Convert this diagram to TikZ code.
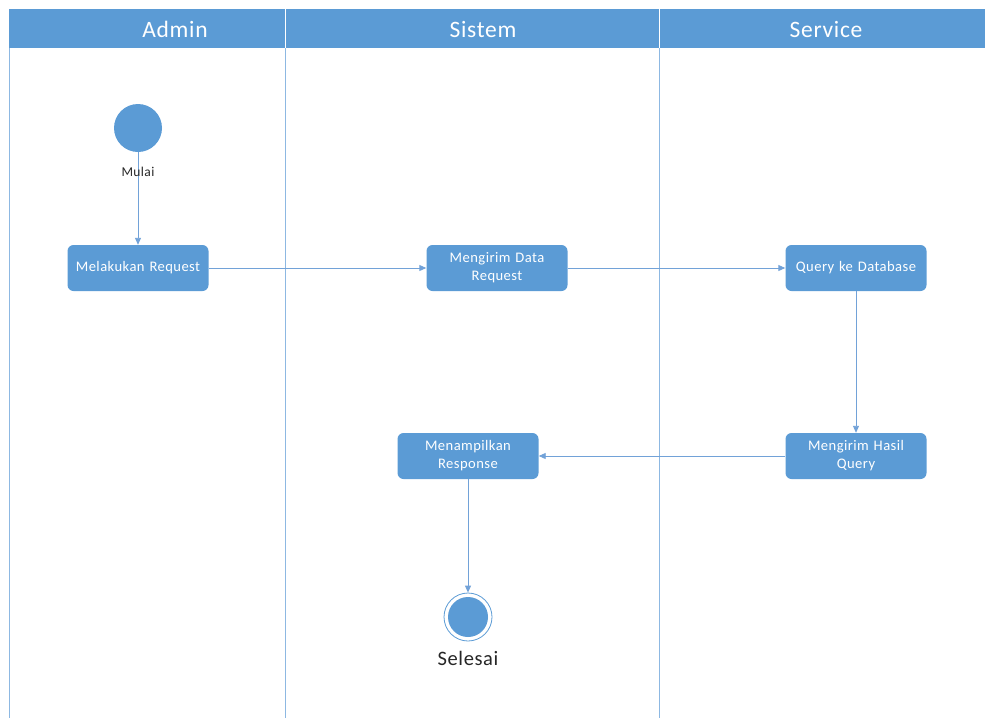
\documentclass[tikz,border=0pt]{standalone}
\usepackage{fontspec}
\setmainfont{Carlito}[LetterSpace=3]
\usetikzlibrary{arrows.meta}
\definecolor{laneblue}{HTML}{5B9BD5}
\definecolor{edgeblue}{HTML}{72A2D8}
\definecolor{rulecol}{HTML}{8DB8E2}
\tikzset{
  act/.style={rectangle, rounded corners=6pt, fill=laneblue, draw=none,
    minimum width=141pt, minimum height=46pt, text=white, font=\fontsize{14.6}{18}\selectfont,
    align=center, text width=138pt, inner sep=1pt},
  flow/.style={draw=edgeblue, line width=0.9pt, -{Triangle[length=7pt,width=6pt]}},
  lanehead/.style={text=white, font=\fontsize{23.5}{27}\selectfont, anchor=center},
}
\begin{document}
\begin{tikzpicture}[x=1pt,y=-1pt]
  \useasboundingbox (0,0) rectangle (985,718);
  % swimlane header band and lane borders
  \fill[laneblue] (9,9) rectangle (985,48);
  \draw[white, line width=0.8pt] (285,9) -- (285,48) (659,9) -- (659,48);
  \draw[rulecol, line width=0.7pt] (9,48) -- (9,718) (285,48) -- (285,718) (659,48) -- (659,718);
  \node[lanehead] (hAdmin) at (175,29) {Admin};
  \node[lanehead] (hSistem) at (483,29) {Sistem};
  \node[lanehead] (hService) at (826,29) {Service};

  % start and end states
  \node[circle, fill=laneblue, minimum size=48pt, inner sep=0pt] (start) at (138,128) {};
  \node[circle, draw=laneblue, line width=0.8pt, fill=white, minimum size=48pt, inner sep=0pt] (stop) at (468,617) {};
  \node[circle, fill=laneblue, minimum size=40pt, inner sep=0pt] (stopin) at (468,617) {};

  % activities
  \node[act] (req) at (138,268) {Melakukan Request};
  \node[act] (send) at (497,268) {Mengirim Data\\Request};
  \node[act] (query) at (856,268) {Query ke Database};
  \node[act] (result) at (856,456) {Mengirim Hasil\\Query};
  \node[act] (show) at (468,456) {Menampilkan\\Response};

  % control flow
  \draw[flow] (start) -- (req);
  \draw[flow] (req) -- (send);
  \draw[flow] (send) -- (query);
  \draw[flow] (query) -- (result);
  \draw[flow] (result) -- (show);
  \draw[flow] (show) -- (stop);

  % state labels
  \node[font=\fontsize{13.5}{15}\selectfont, text=black!85] (lblStart) at (138,172) {Mulai};
  \node[font=\fontsize{20.5}{23}\selectfont, text=black!85] (lblStop) at (468,658) {Selesai};
\end{tikzpicture}
\end{document}
